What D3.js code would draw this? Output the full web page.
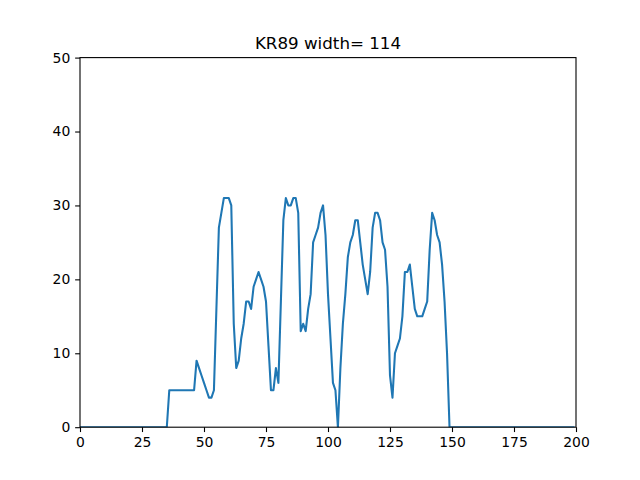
<!DOCTYPE html>
<html>
<head>
<meta charset="utf-8">
<script src="https://cdn.jsdelivr.net/npm/d3@7"></script>
<style>
  body { margin: 0; background: #fff; }
  svg text { font-family: "DejaVu Sans", sans-serif; fill: #000; }
</style>
</head>
<body>
<svg id="chart" width="640" height="480"></svg>
<script>
// chart data
var chartTitle = "KR89 width= 114";
var xDomain = [0, 200];
var yDomain = [0, 50];
var xTicks = [0, 25, 50, 75, 100, 125, 150, 175, 200];
var yTicks = [0, 10, 20, 30, 40, 50];

// signal is zero outside this run; first value sits at x = runStart
var runStart = 34;
var runValues = [
  0, 0, 5, 5, 5, 5, 5, 5, 5, 5, 5, 5, 5, 9, 8, 7, 6, 5, 4, 4,   // 34-53
  5, 16, 27, 29, 31, 31, 31, 30, 14, 8, 9, 12, 14, 17, 17, 16,  // 54-69
  19, 20, 21, 20, 19, 17, 11, 5, 5, 8, 6, 17, 28, 31, 30, 30,   // 70-85
  31, 31, 29, 13, 14, 13, 16, 18, 25, 26, 27, 29, 30, 26, 18, 12, // 86-101
  6, 5, 0, 8, 14, 18, 23, 25, 26, 28, 28, 25, 22, 20, 18, 21,   // 102-117
  27, 29, 29, 28, 25, 24, 19, 7, 4, 10, 11, 12, 15, 21, 21, 22, // 118-133
  19, 16, 15, 15, 15, 16, 17, 24, 29, 28, 26, 25, 22, 17, 10, 0, // 134-149
  0                                                              // 150
];
var lastX = 199;

var points = [[0, 0]];
runValues.forEach(function (v, i) { points.push([runStart + i, v]); });
points.push([lastX, 0]);

// matplotlib default axes box for a 640x480 figure
var margin = { left: 80, right: 64, top: 57.6, bottom: 52.8 };
var svg = d3.select("#chart");
var width = 640 - margin.left - margin.right;
var height = 480 - margin.top - margin.bottom;

var x = d3.scaleLinear().domain(xDomain).range([0, width]);
var y = d3.scaleLinear().domain(yDomain).range([height, 0]);

var g = svg.append("g").attr("transform", "translate(" + margin.left + "," + margin.top + ")");

g.append("clipPath").attr("id", "plotClip")
  .append("rect").attr("width", width).attr("height", height);

g.append("path")
  .datum(points)
  .attr("clip-path", "url(#plotClip)")
  .attr("fill", "none")
  .attr("stroke", "#1f77b4")
  .attr("stroke-width", 2.08)
  .attr("stroke-linejoin", "round")
  .attr("stroke-linecap", "square")
  .attr("d", d3.line().x(function (d) { return x(d[0]); }).y(function (d) { return y(d[1]); }));

var xAxis = g.append("g")
  .attr("transform", "translate(0," + height + ")")
  .call(d3.axisBottom(x).tickValues(xTicks).tickFormat(d3.format("d"))
    .tickSizeInner(4.86).tickSizeOuter(0).tickPadding(4.86));

var yAxis = g.append("g")
  .call(d3.axisLeft(y).tickValues(yTicks).tickFormat(d3.format("d"))
    .tickSizeInner(4.86).tickSizeOuter(0).tickPadding(4.86));

[xAxis, yAxis].forEach(function (a) {
  a.select(".domain").remove();
  a.selectAll(".tick line").attr("stroke", "#000").attr("stroke-width", 1.1);
  a.selectAll(".tick text").attr("font-size", "13.9px").attr("font-family", "DejaVu Sans");
});

// spines on top of the line
g.append("rect")
  .attr("width", width).attr("height", height)
  .attr("fill", "none").attr("stroke", "#000").attr("stroke-width", 1.1);

svg.append("text")
  .attr("x", margin.left + width / 2)
  .attr("y", margin.top - 8.3)
  .attr("text-anchor", "middle")
  .attr("font-size", "16.7px")
  .text(chartTitle);
</script>
</body>
</html>
